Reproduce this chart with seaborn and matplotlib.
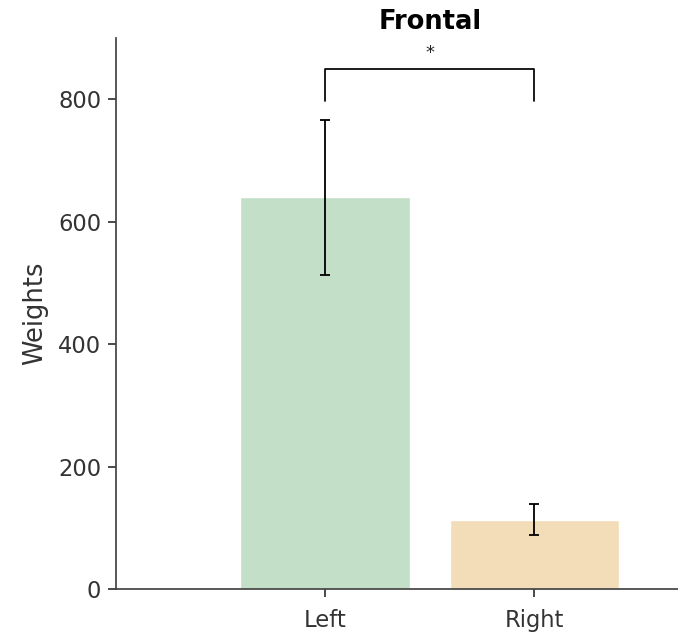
import matplotlib
matplotlib.use("Agg")
import matplotlib.pyplot as plt
import seaborn as sns
import pandas as pd

# Mean weights per hemisphere and their error half-widths
hemispheres = ["Left", "Right"]
mean_weights = [640, 113]
weight_errors = [127, 25]
bar_colors = ["#c3dfc7", "#f3ddb9"]
region = "Frontal"
significance = "*"

sns.set_theme(style="ticks")
plt.rcParams["font.family"] = ["DejaVu Sans"]

df = pd.DataFrame({"Hemisphere": hemispheres, "Weights": mean_weights})

fig = plt.figure(figsize=(6.78, 6.38), dpi=100)
ax = fig.add_axes([0.171, 0.077, 0.926, 0.863])

sns.barplot(data=df, x="Hemisphere", y="Weights", hue="Hemisphere",
            palette=bar_colors, errorbar=None, width=0.81, legend=False,
            saturation=1, ax=ax)
ax.errorbar(range(len(hemispheres)), mean_weights, yerr=weight_errors,
            fmt="none", ecolor="black", elinewidth=1.3, capsize=3.4,
            capthick=1.3)

# Significance bracket between the two bars
top = 849
drop = 798
ax.plot([0, 0, 1, 1], [drop, top, top, drop], color="black", lw=1.25)
ax.text(0.5, top + 12, significance, ha="center", va="bottom",
        fontsize=13, color="#222222")

ax.set_xlim(-1, 2)
ax.set_ylim(0, 900)
ax.set_yticks([0, 200, 400, 600, 800])
ax.set_xlabel("")
ax.set_ylabel("Weights", fontsize=18.5, color="#333333", labelpad=7.5)
ax.set_title(region, fontsize=18.5, fontweight="bold", color="black", pad=6.5)
ax.tick_params(labelsize=16.3, colors="#333333", width=1.25, length=6)
ax.tick_params(axis="x", pad=8.5)
ax.tick_params(axis="y", pad=4.5)
for s in ("left", "bottom"):
    ax.spines[s].set_color("#444444")
    ax.spines[s].set_linewidth(1.25)
sns.despine(ax=ax)

fig.savefig("out.png", dpi=100)
